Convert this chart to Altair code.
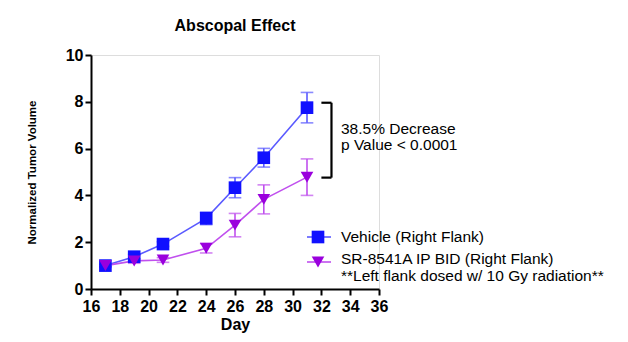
import altair as alt
import pandas as pd

days = [17, 19, 21, 24, 26, 28, 31]
vehicle_mean = [1.0, 1.38, 1.92, 3.02, 4.33, 5.61, 7.75]
vehicle_err = [0.05, 0.1, 0.1, 0.27, 0.43, 0.4, 0.65]
sr_mean = [1.0, 1.2, 1.24, 1.74, 2.73, 3.83, 4.78]
sr_err = [0.05, 0.1, 0.1, 0.2, 0.5, 0.62, 0.78]

series = ["Vehicle (Right Flank)", "SR-8541A IP BID (Right Flank)"]
marker_colors = ["#1010ff", "#9a00dd"]
line_colors = ["#5a5aff", "#c050ee"]
shapes = ["square", "triangle-down"]

x_ticks = list(range(16, 37, 2))
y_ticks = [0, 2, 4, 6, 8, 10]

bracket_x = [32.0, 32.7]
bracket_y = [7.96, 4.76]
annot_lines = ["38.5% Decrease", "p Value < 0.0001"]
legend_extra = "**Left flank dosed w/ 10 Gy radiation**"

rows = []
for s, means, errs in [(series[0], vehicle_mean, vehicle_err), (series[1], sr_mean, sr_err)]:
    for d, m, e in zip(days, means, errs):
        rows.append({"series": s, "day": d, "mean": m, "lo": m - e, "hi": m + e})
df = pd.DataFrame(rows)

FONT = "Liberation Sans"

xs = alt.Scale(domain=[16, 36], nice=False, zero=False)
ys = alt.Scale(domain=[0, 10], nice=False)

xaxis = alt.Axis(
    values=x_ticks, title="Day", grid=False, domainColor="black", domainWidth=2,
    tickColor="black", tickWidth=2, tickSize=6, labelFont=FONT, labelFontSize=16,
    labelFontWeight="bold", labelColor="black", titleFont=FONT, titleFontSize=16,
    titleFontWeight="bold", titleColor="black", titlePadding=2, labelPadding=3,
    labelOverlap=False, labelFlush=False)
yaxis = alt.Axis(
    values=y_ticks, title="Normalized Tumor Volume", grid=False, domainColor="black",
    domainWidth=2, tickColor="black", tickWidth=2, tickSize=6, labelFont=FONT,
    labelFontSize=16, labelFontWeight="bold", labelColor="black", titleFont=FONT,
    titleFontSize=11.5, titleFontWeight="bold", titleColor="black", titlePadding=28,
    labelPadding=2, labelOverlap=False, labelFlush=False)


def X(field):
    return alt.X(field, scale=xs, axis=xaxis)


def Y(field):
    return alt.Y(field, scale=ys, axis=yaxis)


line_scale = alt.Scale(domain=series, range=line_colors)
mk_scale = alt.Scale(domain=series, range=marker_colors)
shape_scale = alt.Scale(domain=series, range=shapes)

LC = alt.Stroke("series:N", scale=line_scale, legend=None)
MF = alt.Fill("series:N", scale=mk_scale, legend=None)
SH = alt.Shape("series:N", scale=shape_scale, legend=None)

base = alt.Chart(df)
lines = base.mark_line(strokeWidth=1.6).encode(
    x=X("day:Q"), y=Y("mean:Q"), stroke=LC, detail="series:N")
err_rule = base.mark_rule(strokeWidth=1.6).encode(
    x=X("day:Q"), y=Y("lo:Q"), y2="hi:Q", stroke=LC)
cap_lo = base.mark_tick(thickness=0.01, size=11, orient="horizontal", strokeWidth=1.6).encode(
    x=X("day:Q"), y=Y("lo:Q"), stroke=LC)
cap_hi = base.mark_tick(thickness=0.01, size=11, orient="horizontal", strokeWidth=1.6).encode(
    x=X("day:Q"), y=Y("hi:Q"), stroke=LC)
points = base.mark_point(filled=True, opacity=1, size=160, strokeWidth=0).encode(
    x=X("day:Q"), y=Y("mean:Q"), fill=MF, shape=SH)

# bracket
br_df = pd.DataFrame({"day": [bracket_x[0], bracket_x[0], bracket_x[1]],
                      "x2": [bracket_x[1], bracket_x[1], bracket_x[1]],
                      "mean": [bracket_y[0], bracket_y[1], bracket_y[0]],
                      "y2": [bracket_y[0], bracket_y[1], bracket_y[1]]})
bracket = alt.Chart(br_df).mark_rule(color="black", strokeWidth=2.2).encode(
    x=X("day:Q"), x2="x2:Q", y=Y("mean:Q"), y2="y2:Q")

txt_props = dict(align="left", baseline="middle", font=FONT, fontSize=15.5, color="black")

ann_df = pd.DataFrame({"t": annot_lines, "i": [0, 1]})
annot0 = alt.Chart(ann_df).transform_filter("datum.i == 0").mark_text(**txt_props).encode(
    x=alt.value(250), y=alt.value(73.5), text="t:N")
annot1 = alt.Chart(ann_df).transform_filter("datum.i == 1").mark_text(**txt_props).encode(
    x=alt.value(250), y=alt.value(90), text="t:N")

# manual legend
leg_df = pd.DataFrame({"series": series, "i": [0, 1]})
leg_layers = []
for i, yy, ym in [(0, 182, 182), (1, 204, 207)]:
    d = alt.Chart(leg_df).transform_filter(f"datum.i == {i}")
    leg_layers.append(d.mark_rule(strokeWidth=1.6).encode(
        x=alt.value(216), x2=alt.value(240), y=alt.value(ym), stroke=LC))
    leg_layers.append(d.mark_point(filled=True, opacity=1, size=160, strokeWidth=0).encode(
        x=alt.value(227), y=alt.value(ym), fill=MF, shape=SH))
    leg_layers.append(d.mark_text(**txt_props).encode(
        x=alt.value(250), y=alt.value(yy), text="series:N"))

extra_df = pd.DataFrame({"t": [legend_extra]})
leg_extra = alt.Chart(extra_df).mark_text(**txt_props).encode(
    x=alt.value(250), y=alt.value(220.5), text="t:N")

chart = alt.layer(lines, err_rule, cap_lo, cap_hi, points, bracket, annot0, annot1,
                  *leg_layers, leg_extra).properties(
    width=288, height=234,
    title=alt.TitleParams("Abscopal Effect", font=FONT, fontSize=16, fontWeight="bold",
                          color="black", anchor="middle", offset=13),
    autosize=alt.AutoSizeParams(type="none"),
    padding={"left": 83, "top": 47, "right": 241, "bottom": 45},
).configure_view(stroke=None).configure(background="white")

chart.save("out.html", embed_options={"renderer": "svg", "actions": False})
